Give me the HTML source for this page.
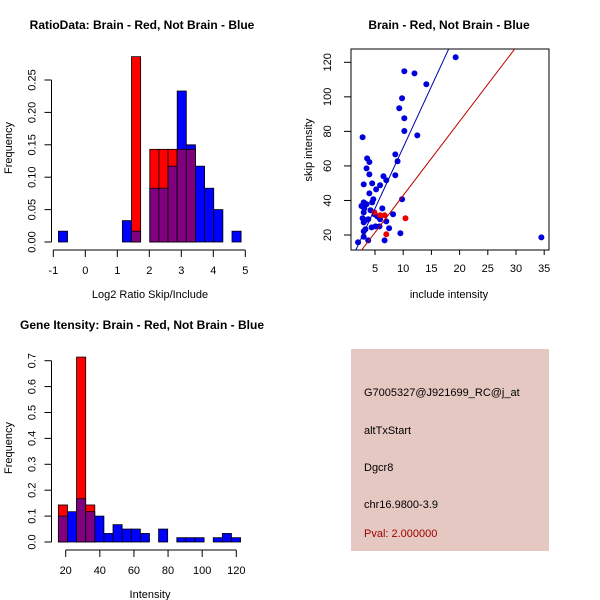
<!DOCTYPE html>
<html><head><meta charset="utf-8"><style>
body{margin:0;background:#fff}
svg{display:block;font-family:"Liberation Sans",sans-serif}
</style></head><body>
<svg id="c" width="600" height="600" xmlns="http://www.w3.org/2000/svg">
<rect width="600" height="600" fill="#fff"/>
<g id="g1"></g>
<g id="g2"></g>
<g id="g3"></g>
<g>
<rect x="351" y="349" width="198" height="202" fill="#e6c8c2"/>
<text x="364" y="396" font-size="11" fill="#000">G7005327@J921699_RC@j_at</text>
<text x="364" y="434" font-size="11" fill="#000">altTxStart</text>
<text x="364" y="471" font-size="11" fill="#000">Dgcr8</text>
<text x="364" y="508" font-size="11" fill="#000">chr16.9800-3.9</text>
<text x="364" y="537" font-size="11" fill="#a00000">Pval: 2.000000</text>
</g>
</svg>
<script>
// Histogram 1 data
const ratioBinStart = -0.84;
const ratioBinWidth = 0.2855;
const ratioBlue = [0.0167,0,0,0,0,0,0,0.033,0.0167,0,0.083,0.083,0.117,0.233,0.15,0.117,0.083,0.05,0,0.0167];
const ratioRed  = [0,0,0,0,0,0,0,0,0.286,0,0.143,0.143,0.143,0.143,0.143,0,0,0,0,0];
const ratioXTicks = [-1,0,1,2,3,4,5];
const ratioYTicks = [0,0.05,0.10,0.15,0.20,0.25];
const ratioYLabels = ["0.00","0.05","0.10","0.15","0.20","0.25"];
// Histogram 2 data
const intBinStart = 15.7;
const intBinWidth = 5.34;
const intBlue = [0.1,0.117,0.167,0.117,0.1,0.033,0.067,0.05,0.05,0.033,0,0.05,0,0.0167,0.0167,0.0167,0,0.0167,0.033,0.0167];
const intRed  = [0.143,0,0.714,0.143,0,0,0,0,0,0,0,0,0,0,0,0,0,0,0,0];
const intXTicks = [20,40,60,80,100,120];
const intYTicks = [0,0.1,0.2,0.3,0.4,0.5,0.6,0.7];
const intYLabels = ["0.0","0.1","0.2","0.3","0.4","0.5","0.6","0.7"];
// Scatter data
const blueX = [19.3,10.2,12.0,14.1,9.8,9.3,10.2,10.2,12.5,2.8,8.6,9.0,3.6,4.0,3.5,4.0,6.5,7.0,8.6,3.0,4.5,5.9,5.2,4.0,4.7,4.5,9.8,3.0,3.5,2.6,3.1,6.3,4.2,3.0,8.2,4.9,5.4,2.8,3.3,3.8,5.9,3.0,7.0,4.4,5.1,5.8,7.5,3.0,3.3,9.5,2.0,3.0,3.8,6.7,34.5];
const blueY = [122.9,114.8,113.6,107.3,99.2,93.4,87.6,80.2,77.7,76.6,66.7,62.7,64.4,62.3,58.6,55.1,54.0,51.7,54.6,49.3,49.9,48.8,46.4,44.1,40.7,38.9,40.7,38.9,37.8,36.8,35.4,35.4,34.3,33.1,32.0,32.0,30.8,29.7,28.5,29.1,29.1,27.3,27.9,24.4,25.0,25.0,23.9,22.1,23.3,21.0,15.8,19.0,16.9,16.9,18.6];
const redX = [4.9,5.9,6.7,10.4,7.0];
const redY = [33.1,31.4,31.4,29.7,20.4];
const blueSlope = 7.07, redSlope = 4.29;
const scXTicks = [5,10,15,20,25,30,35];
const scYTicks = [20,40,60,80,100,120];

const NS="http://www.w3.org/2000/svg";
function mk(parent,tag,attrs,txt){const e=document.createElementNS(NS,tag);for(const k in attrs)e.setAttribute(k,attrs[k]);if(txt!==undefined)e.textContent=txt;parent.appendChild(e);return e;}

function hist(g,o){
  const X=v=>o.x0+(v-o.xv0)*o.kx, Y=v=>o.y0-v*o.ky;
  for(let i=0;i<o.blue.length;i++){
    const b=o.blue[i], r=o.red[i]; const l=o.start+i*o.w, rr=l+o.w;
    const mx=Math.max(b,r), mn=Math.min(b,r);
    if(mx<=0) continue;
    const bar=mk(g,'rect',{x:X(l),y:Y(mx),width:X(rr)-X(l),height:Y(0)-Y(mx),fill:b>=r?'#0000ff':'#ff0000',stroke:'#000','stroke-width':0.8});
    
    
    if(mn>0){
      const p=mk(g,'rect',{x:X(l),y:Y(mn),width:X(rr)-X(l),height:Y(0)-Y(mn),fill:'#800080',stroke:'#000','stroke-width':0.8});
      
      
    }
  }
  const xa=mk(g,'line',{x1:X(o.xt[0]),x2:X(o.xt[o.xt.length-1]),y1:o.xAxisY,y2:o.xAxisY,stroke:'#000'});
  
  
  o.xt.forEach(t=>{
    mk(g,'line',{x1:X(t),x2:X(t),y1:o.xAxisY,y2:o.xAxisY+7,stroke:'#000'});
    const tl=mk(g,'text',{x:X(t),y:o.xAxisY+24,'font-size':11,'text-anchor':'middle'},String(t));
    
    
  });
  const ya=mk(g,'line',{x1:o.yAxisX,x2:o.yAxisX,y1:Y(o.yt[0]),y2:Y(o.yt[o.yt.length-1]),stroke:'#000'});
  
  
  o.yt.forEach((t,i)=>{
    mk(g,'line',{x1:o.yAxisX,x2:o.yAxisX-7,y1:Y(t),y2:Y(t),stroke:'#000'});
    const lx=o.yAxisX-16;
    const tl=mk(g,'text',{x:lx,y:Y(t),'font-size':11,'text-anchor':'middle',transform:`rotate(-90 ${lx} ${Y(t)})`},o.yl[i]);
    
    
  });
}

hist(document.getElementById('g1'),{x0:53.3,xv0:-1,kx:32,y0:242,ky:648,blue:ratioBlue,red:ratioRed,start:ratioBinStart,w:ratioBinWidth,xt:ratioXTicks,yt:ratioYTicks,yl:ratioYLabels,xAxisY:250,yAxisX:51.5});
hist(document.getElementById('g3'),{x0:65.7,xv0:20,kx:1.706,y0:542,ky:259,blue:intBlue,red:intRed,start:intBinStart,w:intBinWidth,xt:intXTicks,yt:intYTicks,yl:intYLabels,xAxisY:550,yAxisX:51.5});

(function(){
  const g=document.getElementById('g2');
  const X=v=>346.8+v*5.64, Y=v=>235-(v-20)*1.727;
  const L=351,R=549,T=49,B=250;
  mk(g,'defs',{}).innerHTML='<clipPath id="clp"><rect x="351" y="49" width="198" height="201"/></clipPath>';
  const box=mk(g,'rect',{x:L,y:T,width:R-L,height:B-T,fill:'none',stroke:'#000'});
  
  
  const cg=mk(g,'g',{'clip-path':'url(#clp)'});
  blueX.forEach((x,i)=>{
    const c=mk(cg,'circle',{cx:X(x),cy:Y(blueY[i]),r:3,fill:'#0000dd'});
    
    
  });
  redX.forEach((x,i)=>{
    const c=mk(cg,'circle',{cx:X(x),cy:Y(redY[i]),r:3,fill:'#ee0000'});
    
    
  });
  const bl=mk(cg,'line',{x1:X(0),y1:Y(0),x2:X(40),y2:Y(40*blueSlope),stroke:'#0000aa','stroke-width':1});
  
  
  const rl=mk(cg,'line',{x1:X(0),y1:Y(0),x2:X(40),y2:Y(40*redSlope),stroke:'#bb0000','stroke-width':1});
  
  
  scXTicks.forEach(t=>{
    mk(g,'line',{x1:X(t),x2:X(t),y1:B,y2:B+5,stroke:'#000'});
    const tl=mk(g,'text',{x:X(t),y:B+22,'font-size':11,'text-anchor':'middle'},String(t));
    
    
  });
  scYTicks.forEach(t=>{
    mk(g,'line',{x1:L,x2:L-7,y1:Y(t),y2:Y(t),stroke:'#000'});
    const lx=L-20;
    const tl=mk(g,'text',{x:lx,y:Y(t),'font-size':11,'text-anchor':'middle',transform:`rotate(-90 ${lx} ${Y(t)})`},String(t));
    
    
  });
})();
</script>
<script>
(function(){
const s=document.getElementById('c');
const NS="http://www.w3.org/2000/svg";
const items=[
 ['text',{x:142,y:29,'font-size':12,'font-weight':'bold','text-anchor':'middle'},'RatioData: Brain - Red, Not Brain - Blue','title-ratio'],
 ['text',{x:150,y:298,'font-size':11,'text-anchor':'middle'},'Log2 Ratio Skip/Include','x-axis-title-ratio'],
 ['text',{x:12,y:148,'font-size':11,'text-anchor':'middle',transform:'rotate(-90 12 148)'},'Frequency','y-axis-title-ratio'],
 ['text',{x:449,y:29,'font-size':12,'font-weight':'bold','text-anchor':'middle'},'Brain - Red, Not Brain - Blue','title-scatter'],
 ['text',{x:449,y:298,'font-size':11,'text-anchor':'middle'},'include intensity','x-axis-title-scatter'],
 ['text',{x:312,y:150,'font-size':11,'text-anchor':'middle',transform:'rotate(-90 312 150)'},'skip intensity','y-axis-title-scatter'],
 ['text',{x:142,y:329,'font-size':12,'font-weight':'bold','text-anchor':'middle'},'Gene Itensity: Brain - Red, Not Brain - Blue','title-intensity'],
 ['text',{x:150,y:598,'font-size':11,'text-anchor':'middle'},'Intensity','x-axis-title-intensity'],
 ['text',{x:12,y:448,'font-size':11,'text-anchor':'middle',transform:'rotate(-90 12 448)'},'Frequency','y-axis-title-intensity']
];
items.forEach(it=>{const e=document.createElementNS(NS,it[0]);for(const k in it[1])e.setAttribute(k,it[1][k]);e.textContent=it[2];


s.appendChild(e);});
})();
</script>
</body></html>
